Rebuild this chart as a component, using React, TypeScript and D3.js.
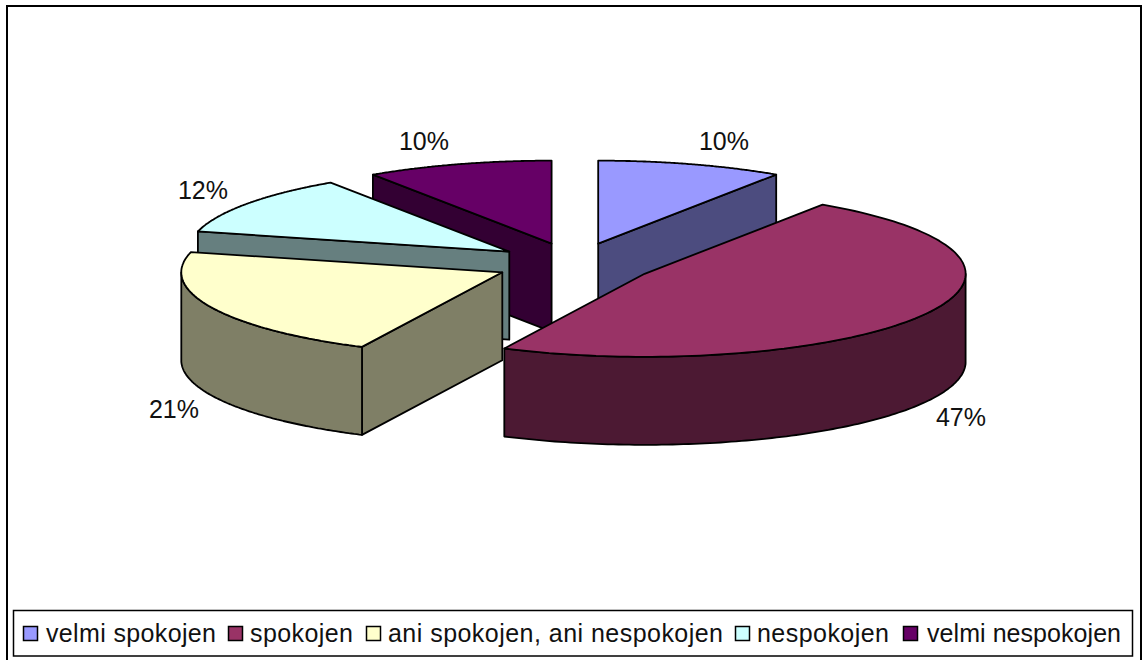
import React from "react";
import * as d3 from "d3";

const categories = ["velmi spokojen", "spokojen", "ani spokojen, ani nespokojen", "nespokojen", "velmi nespokojen"];
const values = [9.35, 47.85, 21.7, 11.7, 9.4];
const percentLabels = ["10%", "47%", "21%", "12%", "10%"];
const topColors = ["#9999FF", "#993366", "#FFFFCC", "#CCFFFF", "#660066"];
const sideColors = ["#4C4C7F", "#4C1933", "#7F7F66", "#667F7F", "#330033"];
const paintOrder = [4, 0, 3, 2, 1];

const W = 1143, H = 660;
const cx = 575, cy = 263.5, rx = 321, ry = 83, depth = 88, explode = 0.25;
const labelPos: [number, number][] = [[724, 150], [961, 426], [174, 418], [203, 199], [424, 150]];
const legendItems: [number, number, number][] = [[23, 46, 170], [228, 250, 103], [366, 388, 335], [735, 757, 132], [903, 927, 194]];

const sx = d3.scaleLinear().domain([-1, 1]).range([-rx, rx]);
const sy = d3.scaleLinear().domain([-1, 1]).range([-ry, ry]);
const fmt = (p: [number, number]) => `${p[0].toFixed(1)},${p[1].toFixed(1)}`;

const pieGen = d3.pie<number>().sort(null).startAngle(0).endAngle(2 * Math.PI);

export default function App() {
  const arcs = pieGen(values);
  const parts = arcs.map((a, i) => {
    const mid = (a.startAngle + a.endAngle) / 2;
    const ax = cx + sx(Math.sin(mid)) * explode;
    const ay = cy - sy(Math.cos(mid)) * explode;
    const pt = (t: number): [number, number] => [ax + sx(Math.sin(t)), ay - sy(Math.cos(t))];
    const arcPts = (t0: number, t1: number) => d3.range(0, 121).map((k) => pt(t0 + ((t1 - t0) * k) / 120));
    const down = (p: [number, number]): [number, number] => [p[0], p[1] + depth];
    const top = [[ax, ay] as [number, number], ...arcPts(a.startAngle, a.endAngle)];
    const wall = (t: number) => {
      const p = pt(t);
      return [[ax, ay], p, down(p), [ax, ay + depth]] as [number, number][];
    };
    const s0 = Math.max(a.startAngle, Math.PI / 2);
    const s1 = Math.min(a.endAngle, (3 * Math.PI) / 2);
    const outer = s1 > s0 ? arcPts(s0, s1) : null;
    const outerPoly = outer ? [...outer, ...outer.slice().reverse().map(down)] : null;
    return {
      i,
      top,
      w0: Math.sin(a.startAngle) < 0 ? wall(a.startAngle) : null,
      w1: Math.sin(a.endAngle) > 0 ? wall(a.endAngle) : null,
      outerPoly,
    };
  });
  const style = { stroke: "#000", strokeWidth: 1.8, strokeLinejoin: "round" as const };
  return (
    <svg width={W} height={H} style={{ position: "absolute", left: 0, top: 0, background: "#fff" }} fontFamily="'Liberation Sans', Arial, sans-serif">
      <rect x={7} y={6} width={1134} height={660} fill="#fff" stroke="#000" strokeWidth={2} />
      {paintOrder.map((idx) => {
        const p = parts[idx];
        return (
          <g key={idx}>
            {p.w0 && <polygon points={p.w0.map(fmt).join(" ")} fill={sideColors[idx]} {...style} />}
            {p.w1 && <polygon points={p.w1.map(fmt).join(" ")} fill={sideColors[idx]} {...style} />}
            {p.outerPoly && <polygon points={p.outerPoly.map(fmt).join(" ")} fill={sideColors[idx]} {...style} />}
            <polygon points={p.top.map(fmt).join(" ")} fill={topColors[idx]} {...style} />
          </g>
        );
      })}
      {percentLabels.map((t, i) => (
        <text key={i} x={labelPos[i][0]} y={labelPos[i][1]} textAnchor="middle" fontSize={25} fill="#111">{t}</text>
      ))}
      <rect x={13.5} y={610.5} width={1119} height={45.5} fill="#fff" stroke="#000" strokeWidth={1.5} />
      {categories.map((c, i) => (
        <g key={c}>
          <rect x={legendItems[i][0] + 0.5} y={626.5} width={14} height={14} fill={topColors[i]} stroke="#000" strokeWidth={1.5} />
          <text x={legendItems[i][1]} y={642} fontSize={25} fill="#111" textLength={legendItems[i][2]} lengthAdjust="spacing">{c}</text>
        </g>
      ))}
    </svg>
  );
}
